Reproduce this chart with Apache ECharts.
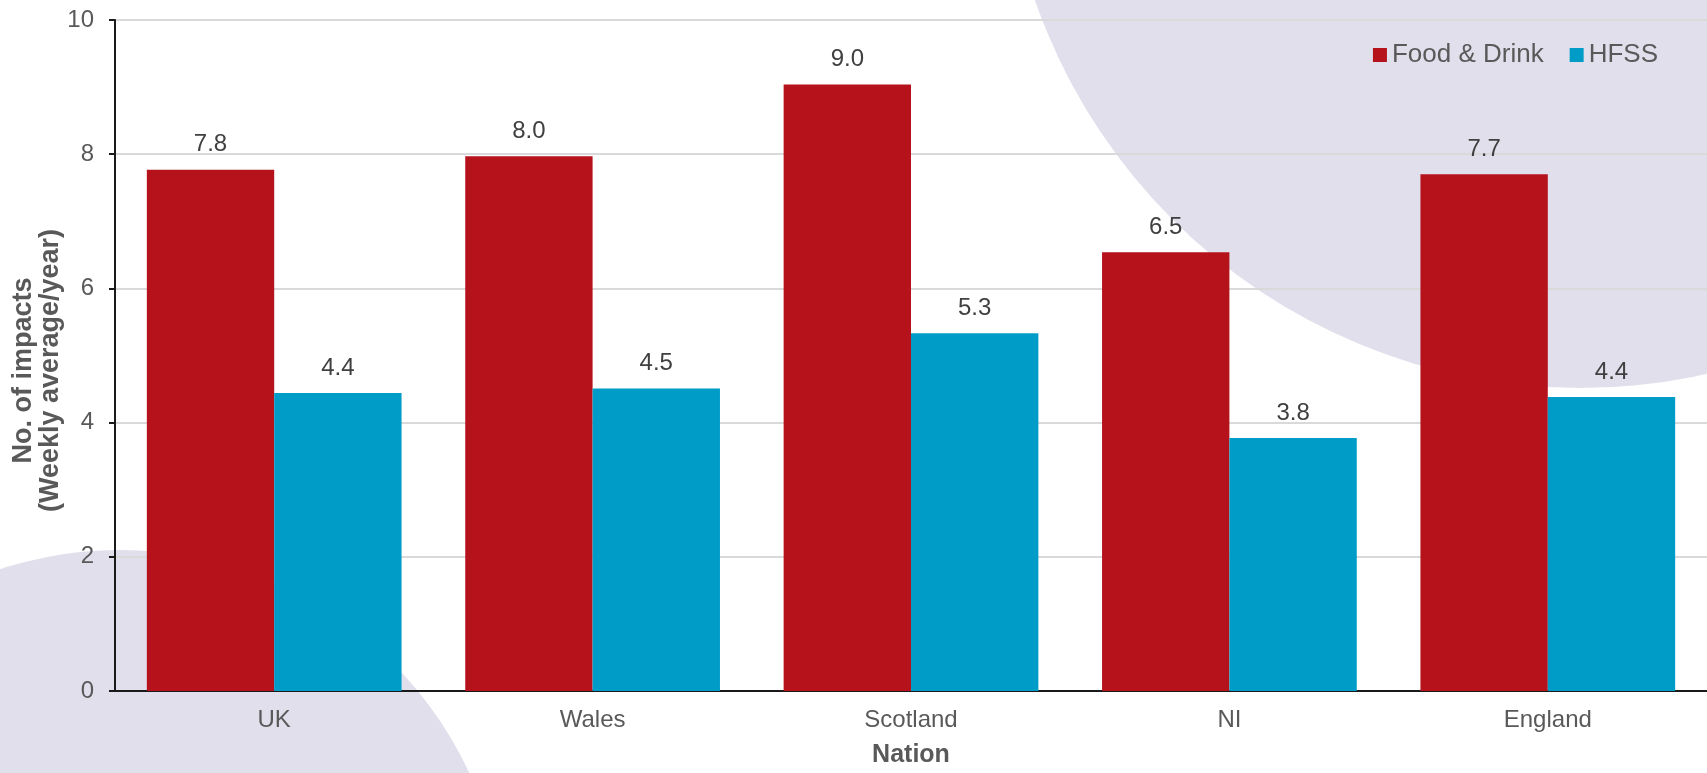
<!DOCTYPE html>
<html>
<head>
<meta charset="utf-8">
<script src="https://cdn.jsdelivr.net/npm/echarts@6/dist/echarts.min.js"></script>
<style>
html,body{margin:0;padding:0;background:#fff;}
#chart{width:1707px;height:773px;}
</style>
</head>
<body>
<div id="chart"></div>
<script>
const categories = ['UK', 'Wales', 'Scotland', 'NI', 'England'];
const foodDrink = [7.77, 7.97, 9.04, 6.54, 7.70];
const hfss = [4.44, 4.51, 5.33, 3.77, 4.38];
const seriesNames = ['Food & Drink', 'HFSS'];
const yTicks = { min: 0, max: 10, interval: 2 };

const chart = echarts.init(document.getElementById('chart'));
const font = 'Liberation Sans, Arial, sans-serif';
const labelCfg = {
  show: true, position: 'top', distance: 13,
  color: '#404040', fontSize: 24, fontFamily: font,
  formatter: p => p.value.toFixed(1)
};
chart.setOption({
  backgroundColor: '#ffffff',
  textStyle: { fontFamily: font },
  graphic: [
    { type: 'circle', z: -10, silent: true, shape: { cx: 1580, cy: -189, r: 577 }, style: { fill: '#e1dfec' } },
    { type: 'circle', z: -10, silent: true, shape: { cx: 120, cy: 935, r: 385 }, style: { fill: '#e1dfec' } }
  ],
  legend: {
    right: 49, top: 42, padding: 0,
    itemWidth: 14, itemHeight: 14, itemGap: 26,
    icon: 'rect',
    textStyle: { color: '#595959', fontSize: 26, fontFamily: font },
    data: seriesNames
  },
  grid: { left: 115, right: 0, top: 20, bottom: 76, containLabel: false },
  xAxis: {
    type: 'category', data: categories,
    axisLine: { show: true, lineStyle: { color: '#1a1a1a', width: 2 } },
    axisTick: { show: false },
    axisLabel: { color: '#595959', fontSize: 24, margin: 17, fontFamily: font },
    name: 'Nation', nameLocation: 'middle', nameGap: 52, nameMoveOverlap: false,
    nameTextStyle: { color: '#595959', fontSize: 25, fontWeight: 'bold', fontFamily: font }
  },
  yAxis: {
    type: 'value', min: yTicks.min, max: yTicks.max, interval: yTicks.interval,
    axisLine: { show: true, lineStyle: { color: '#1a1a1a', width: 2 } },
    axisTick: { show: true, length: 6, lineStyle: { color: '#1a1a1a', width: 2 } },
    axisLabel: { color: '#595959', fontSize: 24, margin: 21, fontFamily: font },
    splitLine: { show: true, lineStyle: { color: '#d9d9d9', width: 2 } },
    name: 'No. of impacts\n(Weekly average/year)', nameLocation: 'middle', nameGap: 51, nameMoveOverlap: false,
    nameTextStyle: { color: '#595959', fontSize: 27, fontWeight: 'bold', lineHeight: 27, fontFamily: font, padding: [0, 30, 0, 0] }
  },
  series: [
    { name: seriesNames[0], type: 'bar', data: foodDrink, barGap: '0%', barCategoryGap: '20%',
      itemStyle: { color: '#b5121b' }, label: labelCfg },
    { name: seriesNames[1], type: 'bar', data: hfss, barGap: '0%', barCategoryGap: '20%',
      itemStyle: { color: '#009cc8' }, label: labelCfg }
  ]
});
</script>
</body>
</html>
